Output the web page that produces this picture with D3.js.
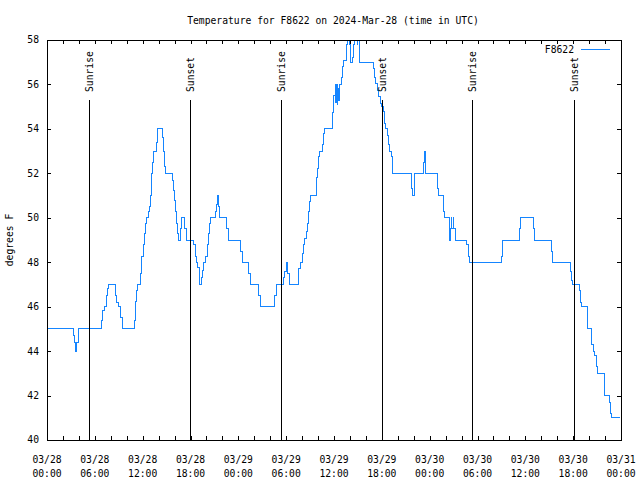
<!DOCTYPE html>
<html>
<head>
<meta charset="utf-8">
<script src="https://cdn.jsdelivr.net/npm/d3@7"></script>
<style>
  body { margin: 0; background: #fff; }
  svg text { font-family: "DejaVu Sans Mono", "Liberation Mono", monospace; font-size: 9.7px; fill: #000; }
  .axis .domain { display: none; }
  .axis line { stroke: #000; shape-rendering: crispEdges; }
</style>
</head>
<body>
<svg id="chart"></svg>
<script>
// hours since 2024-03-28 00:00 UTC, and temperature (F) from then on (step data)
const hours = [
  0, 3.30, 3.45, 3.58, 3.76, 3.93, 6.84, 6.99, 7.15, 7.44, 7.56, 7.69, 8.59, 8.78, 8.97, 9.16, 9.41,
  10.98, 11.13, 11.25, 11.38, 11.75, 11.88, 12.13, 12.26, 12.38, 12.51, 12.71, 12.83, 12.96, 13.05,
  13.17, 13.26, 13.38, 13.73, 13.86, 14.51, 14.64, 14.76, 14.89, 15.77, 15.89, 16.02, 16.14, 16.27,
  16.39, 16.47, 16.77, 16.93, 17.19, 17.47, 18.40, 18.65, 18.78, 18.94, 19.07, 19.19, 19.41, 19.53,
  19.69, 19.94, 20.11, 20.23, 20.36, 20.48, 21.08, 21.28, 21.41, 21.49, 21.58, 22.51, 22.72, 24.30,
  24.50, 25.25, 25.50, 26.56, 26.76, 28.51, 28.76, 29.64, 29.82, 30.02, 30.19, 30.36, 31.52, 31.82,
  32.03, 32.15, 32.32, 32.53, 32.65, 32.80, 32.92, 33.08, 33.83, 33.96, 34.08, 34.24, 34.53, 34.66,
  34.78, 35.84, 35.96, 36.13, 36.21, 36.29, 36.38, 36.50, 36.59, 36.72, 36.97, 37.09, 37.22, 37.51,
  37.67, 37.92, 38.04, 38.13, 38.26, 38.42, 38.55, 38.89, 39.01, 39.26, 40.93, 41.06, 41.23, 41.40,
  41.56, 41.77, 41.98, 42.19, 42.31, 42.44, 42.65, 42.81, 42.99, 43.19, 43.36, 45.66, 45.79, 46.04,
  47.20, 47.29, 47.45, 48.96, 49.09, 49.71, 49.89, 50.46, 50.55, 50.64, 50.71, 50.80, 50.93, 51.05,
  51.18, 52.68, 52.85, 53.02, 56.95, 57.11, 59.21, 59.37, 61.00, 61.13, 63.31, 63.43, 65.67, 65.79,
  65.89, 66.77, 66.95, 67.02, 67.77, 67.86, 68.28, 68.36, 68.49, 68.65, 68.87, 68.99, 69.87, 69.99,
  70.53, 70.66, 70.75, 71.88
];
const temps = [
  45, 44.7, 44.4, 44.0, 44.4, 45.0, 45.4, 45.85, 46.0, 46.5, 46.8, 47.0, 46.5, 46.2, 46.0, 45.5, 45.0,
  45.4, 46.25, 46.75, 47.0, 47.5, 48.25, 48.8, 49.3, 49.75, 50.0, 50.3, 50.5, 51.0, 51.5,
  52.0, 52.5, 53.0, 53.4, 54.0, 53.6, 53.0, 52.3, 52.0, 51.7, 51.25, 50.8, 50.3, 49.75,
  49.3, 49.0, 49.5, 50.0, 49.5, 49.0, 48.8, 48.25, 48.0, 47.75, 47.5, 47.0, 47.3, 47.65,
  48.0, 48.25, 48.8, 49.3, 49.75, 50.0, 50.3, 50.6, 51.0, 50.5, 50.0, 49.5, 49.0, 48.5,
  48.0, 47.5, 47.0, 46.5, 46.0, 46.5, 47.0, 47.3, 47.6, 48.0, 47.5, 47.0, 47.7, 48.0,
  48.4, 48.8, 49.05, 49.4, 49.75, 50.3, 50.75, 51.0, 51.8, 52.2, 52.75, 53.0, 53.3, 53.8,
  54.0, 54.75, 55.5, 56.0, 55.2, 56.0, 55.1, 55.8, 55.3, 56.0, 56.3, 56.8, 57.1, 57.8,
  58.0, 57.8, 57.4, 57.0, 57.2, 57.8, 58.0, 57.8, 58.0, 57.0, 56.7, 56.3, 56.05, 55.75,
  55.45, 55.15, 55.0, 54.8, 54.25, 54.0, 53.7, 53.3, 53.0, 52.75, 52.0, 51.3, 51.0, 52.0,
  52.5, 53.0, 52.0, 51.3, 51.0, 50.3, 50.0, 49.3, 49.0, 49.5, 50.0, 49.5, 50.0, 49.5,
  49.0, 48.8, 48.25, 48.0, 48.25, 49.0, 49.5, 50.0, 49.5, 49.0, 48.5, 48.0, 47.6, 47.2,
  47.0, 46.75, 46.2, 46.0, 45.5, 45.0, 44.7, 44.3, 44.0, 43.8, 43.3, 43.0, 42.7, 42.0,
  41.7, 41.2, 41.0, 41.0
];

// sunrise / sunset markers, hours since start
const sunHours = [5.31, 17.98, 29.39, 42.06, 53.35, 66.14];
const sunLabels = ["Sunrise", "Sunset", "Sunrise", "Sunset", "Sunrise", "Sunset"];

const yTicks = [40, 42, 44, 46, 48, 50, 52, 54, 56, 58];
const titleText = "Temperature for F8622 on 2024-Mar-28 (time in UTC)";
const seriesName = "F8622";
const yLabel = "degrees F";

class TempChart {
  constructor(_config) {
    this.config = {
      parentElement: _config.parentElement,
      containerWidth: 640,
      containerHeight: 480,
      margin: { top: 40, right: 19, bottom: 40, left: 47 },
      lineColor: "#1585ff"
    };
    this.start = Date.UTC(2024, 2, 28);
    this.data = hours.map((h, i) => ({ date: new Date(this.start + h * 3600e3), temp: temps[i] }));
    this.initVis();
  }

  initVis() {
    let vis = this;
    vis.svg = d3.select(vis.config.parentElement)
        .attr("width", vis.config.containerWidth)
        .attr("height", vis.config.containerHeight);

    vis.width = vis.config.containerWidth - vis.config.margin.left - vis.config.margin.right;
    vis.height = vis.config.containerHeight - vis.config.margin.top - vis.config.margin.bottom;

    vis.chart = vis.svg.append("g")
        .attr("transform", `translate(${vis.config.margin.left},${vis.config.margin.top})`);

    vis.xScale = d3.scaleUtc()
        .domain([new Date(vis.start), new Date(vis.start + 72 * 3600e3)])
        .range([0, vis.width]);
    vis.yScale = d3.scaleLinear()
        .domain([40, 58])
        .range([vis.height, 0]);

    vis.renderVis();
  }

  renderVis() {
    let vis = this;
    const xTickVals = d3.utcHour.every(2).range(vis.xScale.domain()[0], new Date(vis.start + 72 * 3600e3 + 1));
    const labelVals = xTickVals.filter(d => d.getUTCHours() % 6 === 0);

    // ticks, mirrored on all four sides, pointing inward
    vis.chart.append("g").attr("class", "axis")
        .attr("transform", `translate(0,${vis.height})`)
        .call(d3.axisBottom(vis.xScale).tickValues(xTickVals).tickSize(-4).tickFormat(""));
    vis.chart.append("g").attr("class", "axis")
        .call(d3.axisTop(vis.xScale).tickValues(xTickVals).tickSize(-4).tickFormat(""));
    vis.chart.append("g").attr("class", "axis")
        .call(d3.axisLeft(vis.yScale).tickValues(yTicks).tickSize(-4).tickFormat(""));
    vis.chart.append("g").attr("class", "axis")
        .attr("transform", `translate(${vis.width},0)`)
        .call(d3.axisRight(vis.yScale).tickValues(yTicks).tickSize(-4).tickFormat(""));

    // y tick labels
    vis.chart.selectAll(".ylab")
        .data(yTicks)
        .join("text")
        .attr("class", "ylab")
        .attr("x", -8)
        .attr("y", d => vis.yScale(d))
        .attr("dy", "0.35em")
        .attr("text-anchor", "end")
        .text(d => d);

    // x tick labels, date over time
    const fmtDate = d3.utcFormat("%m/%d");
    const fmtTime = d3.utcFormat("%H:%M");
    const xl = vis.chart.selectAll(".xlab")
        .data(labelVals)
        .join("text")
        .attr("class", "xlab")
        .attr("text-anchor", "middle");
    xl.append("tspan")
        .attr("x", d => vis.xScale(d))
        .attr("y", vis.height + 22.5)
        .text(d => fmtDate(d));
    xl.append("tspan")
        .attr("x", d => vis.xScale(d))
        .attr("y", vis.height + 37)
        .text(d => fmtTime(d));

    // clip for the data line
    vis.svg.append("defs").append("clipPath").attr("id", "plotClip")
        .append("rect").attr("width", vis.width).attr("height", vis.height);

    vis.chart.append("path")
        .datum(vis.data)
        .attr("clip-path", "url(#plotClip)")
        .attr("fill", "none")
        .attr("stroke", vis.config.lineColor)
        .attr("stroke-width", 1)
        .attr("shape-rendering", "crispEdges")
        .attr("d", d3.line()
            .x(d => vis.xScale(d.date))
            .y(d => vis.yScale(d.temp))
            .curve(d3.curveStepAfter));

    // sunrise / sunset lines
    const sun = sunHours.map((h, i) => ({ date: new Date(vis.start + h * 3600e3), label: sunLabels[i] }));
    vis.chart.selectAll(".sunLine")
        .data(sun)
        .join("line")
        .attr("class", "sunLine")
        .attr("x1", d => Math.round(vis.xScale(d.date)) + 0.5)
        .attr("x2", d => Math.round(vis.xScale(d.date)) + 0.5)
        .attr("y1", 60)
        .attr("y2", vis.height)
        .attr("stroke", "#000")
        .attr("stroke-width", 1);
    vis.chart.selectAll(".sunText")
        .data(sun)
        .join("text")
        .attr("class", "sunText")
        .attr("transform", d => `translate(${Math.round(vis.xScale(d.date)) + 1},52) rotate(-90)`)
        .attr("dy", "0.35em")
        .attr("text-anchor", "start")
        .text(d => d.label);

    // frame
    vis.chart.append("rect")
        .attr("x", 0.5).attr("y", 0.5)
        .attr("width", vis.width).attr("height", vis.height)
        .attr("fill", "none")
        .attr("stroke", "#000")
        .attr("shape-rendering", "crispEdges");

    // legend
    vis.chart.append("text")
        .attr("x", 527)
        .attr("y", 10)
        .attr("dy", "0.35em")
        .attr("text-anchor", "end")
        .text(seriesName);
    vis.chart.append("line")
        .attr("x1", 534).attr("x2", 563)
        .attr("y1", 9.5).attr("y2", 9.5)
        .attr("stroke", vis.config.lineColor);

    // title and axis label
    vis.svg.append("text")
        .attr("x", 333)
        .attr("y", 24)
        .attr("text-anchor", "middle")
        .text(titleText);
    vis.svg.append("text")
        .attr("transform", `translate(10,240) rotate(-90)`)
        .attr("dy", "0.35em")
        .attr("text-anchor", "middle")
        .text(yLabel);
  }
}

new TempChart({ parentElement: "#chart" });
</script>
</body>
</html>
